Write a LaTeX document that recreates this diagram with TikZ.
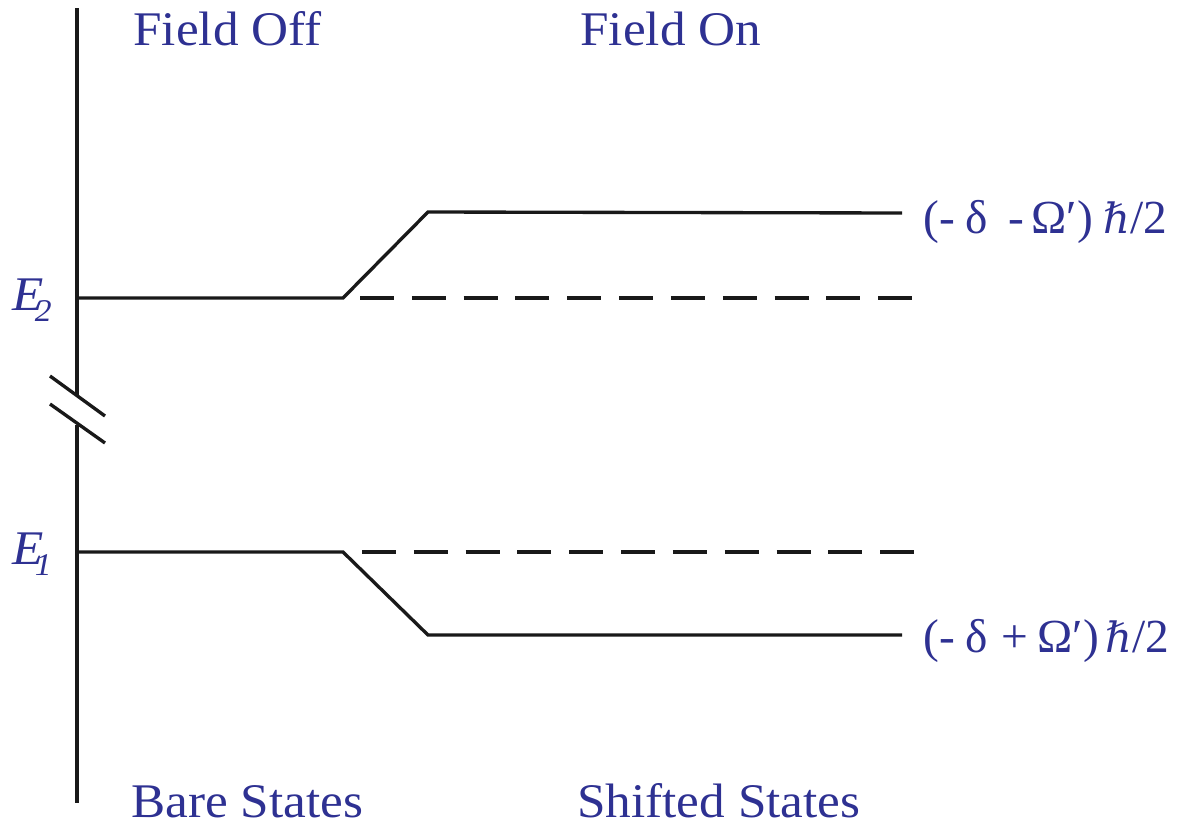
\documentclass[tikz,border=0pt]{standalone}
\usepackage{fontspec}
\setmainfont[FakeStretch=1.06]{Liberation Serif}
\newfontfamily\plainserif{Liberation Serif}
\newfontfamily\hbarfont[Scale=0.88]{DejaVu Serif}
\definecolor{lblue}{RGB}{46,49,146}
\begin{document}
\begin{tikzpicture}[x=0.02cm,y=-0.02cm,
  ln/.style={line width=1.9pt,black!90,line cap=butt,line join=miter},
  dsh/.style={ln,dash pattern=on 19.3pt off 10.2pt},
  lbl/.style={text=lblue,inner sep=0pt,anchor=base west,font=\fontsize{27.5pt}{30pt}\selectfont},
  rlbl/.style={lbl,font=\fontsize{27pt}{30pt}\selectfont\plainserif}]
\useasboundingbox (0,0) rectangle (1183,825);
% axis
\coordinate (axTop) at (77,8);
\coordinate (axBrkA) at (77,395);
\coordinate (axBrkB) at (77,425);
\coordinate (axBot) at (77,803);
\draw[ln] (axTop) -- (axBrkA);
\draw[ln] (axBrkB) -- (axBot);
\coordinate (s1a) at (50,376); \coordinate (s1b) at (105,416);
\coordinate (s2a) at (50,404); \coordinate (s2b) at (105,443);
\draw[ln] (s1a) -- (s1b);
\draw[ln] (s2a) -- (s2b);
% upper level
\coordinate (e2a) at (77,298); \coordinate (e2k) at (343,298);
\coordinate (e2t) at (428,212); \coordinate (e2e) at (902,213);
\draw[ln] (e2a) -- (e2k) -- (e2t) -- (e2e);
\coordinate (d2a) at (360,298); \coordinate (d2b) at (914,298);
\draw[dsh] (d2a) -- (d2b);
% lower level
\coordinate (e1a) at (77,552); \coordinate (e1k) at (343,552);
\coordinate (e1t) at (428,635); \coordinate (e1e) at (902,635);
\draw[ln] (e1a) -- (e1k) -- (e1t) -- (e1e);
\coordinate (d1a) at (362,552); \coordinate (d1b) at (914,552);
\draw[dsh] (d1a) -- (d1b);
% labels
\node[lbl] (foff) at (133,45) {Field Off};
\node[lbl] (fon) at (580,45) {Field On};
\node[lbl] (bare) at (131,817) {Bare States};
\node[lbl] (shift) at (577,817) {Shifted States};
\node[lbl] (E2) at (12,310) {\itshape E\kern-5pt\raisebox{-6.3pt}{\fontsize{18pt}{20pt}\selectfont 2}};
\node[lbl] (E1) at (12,564) {\itshape E\kern-5pt\raisebox{-6.3pt}{\fontsize{18pt}{20pt}\selectfont 1}};
\node[rlbl] (up) at (923,233) {(-\kern6pt δ\kern12pt -\kern4pt Ω′)\kern6pt{\hbarfont\itshape ℏ}/2};
\node[rlbl] (lo) at (923,652) {(-\kern6pt δ\kern8pt +\kern5pt Ω′)\kern4pt{\hbarfont\itshape ℏ}/2};
\end{tikzpicture}
\end{document}
